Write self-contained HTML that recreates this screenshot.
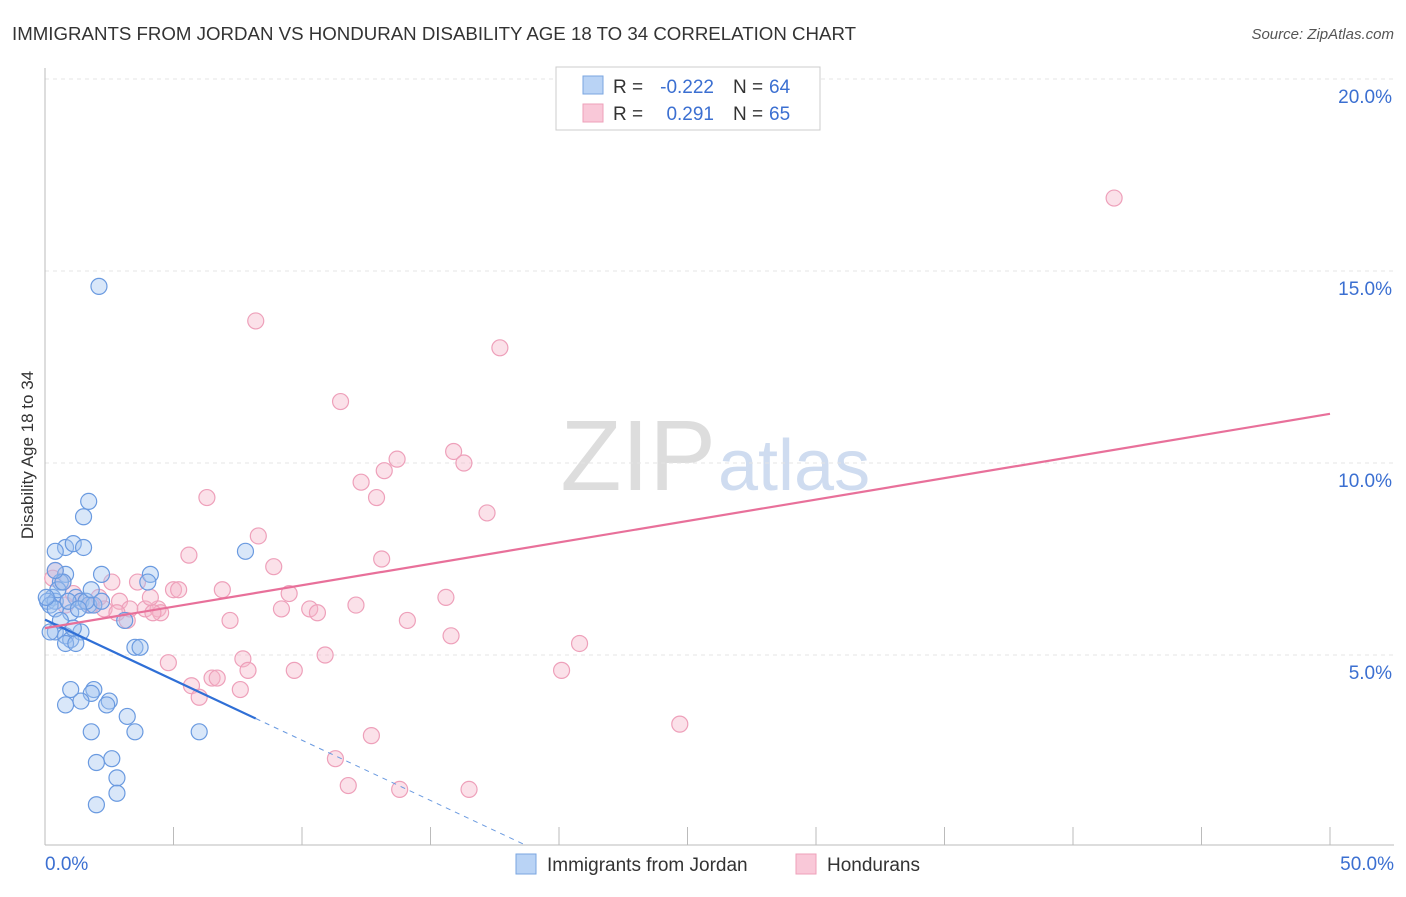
<!DOCTYPE html>
<html><head><meta charset="utf-8"><style>
body{margin:0;background:#fff;font-family:"Liberation Sans",sans-serif}
svg text{font-family:"Liberation Sans",sans-serif}
</style></head><body>
<svg id="c" width="1406" height="892">
<text x="12" y="40" font-size="18" fill="#333" textLength="844" lengthAdjust="spacingAndGlyphs">IMMIGRANTS FROM JORDAN VS HONDURAN DISABILITY AGE 18 TO 34 CORRELATION CHART</text>
<text x="1394" y="39" font-size="15" fill="#555" font-style="italic" text-anchor="end">Source: ZipAtlas.com</text>
<text x="716" y="490" font-size="100" fill="#ddd" text-anchor="end" font-family="Liberation Serif">ZIP</text>
<text x="718" y="490" font-size="72" fill="#cfdcf0">atlas</text>
<text transform="translate(33,455) rotate(-90)" font-size="17" fill="#333" text-anchor="middle">Disability Age 18 to 34</text>
<g id="grid"></g><g id="pts"></g><g id="lines"></g>
<g>
<rect x="556" y="67" width="264" height="63" fill="#fff" stroke="#ccc"/>
<rect x="583" y="76" width="20" height="18" fill="#b9d3f5" stroke="#7aa6e0"/>
<rect x="583" y="104" width="20" height="18" fill="#f9c8d8" stroke="#eea0ba"/>
<text x="613" y="93" font-size="19" fill="#333">R =</text>
<text x="714" y="93" font-size="19" fill="#3b6fd1" text-anchor="end">-0.222</text>
<text x="733" y="93" font-size="19" fill="#333">N =</text>
<text x="769" y="93" font-size="19" fill="#3b6fd1">64</text>
<text x="613" y="120" font-size="19" fill="#333">R =</text>
<text x="714" y="120" font-size="19" fill="#3b6fd1" text-anchor="end">0.291</text>
<text x="733" y="120" font-size="19" fill="#333">N =</text>
<text x="769" y="120" font-size="19" fill="#3b6fd1">65</text>
</g>
<g>
<rect x="516" y="854" width="20" height="20" fill="#b9d3f5" stroke="#7aa6e0"/>
<text x="547" y="871" font-size="19" fill="#333">Immigrants from Jordan</text>
<rect x="796" y="854" width="20" height="20" fill="#f9c8d8" stroke="#eea0ba"/>
<text x="827" y="871" font-size="19" fill="#333">Hondurans</text>
</g>
</svg>
<script>
const xTicks=[0,5,10,15,20,25,30,35,40,45,50];
const yTicks=[5,10,15,20];
const blueX=[2.1,1.7,1.5,0.8,1.1,1.5,0.4,7.8,2.2,4.1,4.0,0.8,0.6,0.3,0.1,0.4,0.2,1.2,1.4,1.7,1.9,0.4,1.0,2.2,0.4,0.8,1.0,1.4,0.8,1.2,3.1,3.5,3.7,1.0,1.9,1.8,2.5,1.4,2.4,0.8,3.2,1.8,3.5,6.0,2.6,2.0,2.8,2.8,2.0,0.5,0.7,0.9,1.1,0.2,0.6,1.6,1.3,1.8,0.4,0.05];
const blueY=[14.6,9.0,8.6,7.8,7.9,7.8,7.7,7.7,7.1,7.1,6.9,7.1,6.9,6.5,6.4,6.4,6.3,6.5,6.4,6.3,6.3,6.2,6.1,6.4,5.6,5.5,5.4,5.6,5.3,5.3,5.9,5.2,5.2,4.1,4.1,4.0,3.8,3.8,3.7,3.7,3.4,3.0,3.0,3.0,2.3,2.2,1.8,1.4,1.1,6.7,6.9,6.4,5.7,5.6,5.9,6.4,6.2,6.7,7.2,6.5];
const pinkX=[41.6,8.2,17.7,11.5,15.9,13.7,16.3,13.2,12.3,12.9,6.3,17.2,8.3,5.6,13.1,8.9,0.4,0.3,0.7,2.6,3.6,5.0,5.2,6.9,9.5,15.6,2.1,2.9,1.8,2.3,3.3,3.9,4.4,4.5,2.8,4.2,9.2,10.3,10.6,12.1,7.2,3.2,14.1,0.8,1.1,15.8,20.8,7.7,10.9,4.8,20.1,9.7,6.5,6.7,7.9,5.7,7.6,6.0,24.7,12.7,11.3,11.8,13.8,16.5,4.1,1.4];
const pinkY=[16.9,13.7,13.0,11.6,10.3,10.1,10.0,9.8,9.5,9.1,9.1,8.7,8.1,7.6,7.5,7.3,7.2,7.0,6.9,6.9,6.9,6.7,6.7,6.7,6.6,6.5,6.5,6.4,6.3,6.2,6.2,6.2,6.2,6.1,6.1,6.1,6.2,6.2,6.1,6.3,5.9,5.9,5.9,6.3,6.6,5.5,5.3,4.9,5.0,4.8,4.6,4.6,4.4,4.4,4.6,4.2,4.1,3.9,3.2,2.9,2.3,1.6,1.5,1.5,6.5,6.4];
const blueLine=[5.92,0.05];
const pinkLine=[5.7,11.28];
const X=v=>45+v*25.7, Y=v=>847-v*38.4;
const NS='http://www.w3.org/2000/svg';
function mk(p,t,a){const e=document.createElementNS(NS,t);for(const k in a)e.setAttribute(k,a[k]);p.appendChild(e);return e;}
const g=document.getElementById('grid');
yTicks.forEach(v=>{const l=mk(g,'line',{x1:45,x2:1394,y1:Y(v),y2:Y(v),stroke:'#e4e4e4','stroke-dasharray':'4,4'});

const t=mk(g,'text',{x:1392,y:Y(v)+24,'font-size':19,fill:'#3b6fd1','text-anchor':'end'});t.textContent=v.toFixed(1)+'%';
});
const ax=mk(g,'line',{x1:45,x2:1394,y1:845,y2:845,stroke:'#bbb'});
const ay=mk(g,'line',{x1:45,x2:45,y1:68,y2:845,stroke:'#bbb'});
xTicks.forEach(v=>{const l=mk(g,'line',{x1:X(v),x2:X(v),y1:827,y2:845,stroke:'#bbb'});});
[[0,'0.0%','start',45],[50,'50.0%','end',1394]].forEach(a=>{const t=mk(g,'text',{x:a[3],y:870,'font-size':19,fill:'#3b6fd1','text-anchor':a[2]});t.textContent=a[1];});
const p=document.getElementById('pts');
pinkX.forEach((v,i)=>{const c=mk(p,'circle',{cx:X(v),cy:Y(pinkY[i]),r:8,fill:'rgba(246,180,200,0.4)',stroke:'#eea0ba','stroke-width':1.2});});
blueX.forEach((v,i)=>{const c=mk(p,'circle',{cx:X(v),cy:Y(blueY[i]),r:8,fill:'rgba(160,195,240,0.4)',stroke:'#6a9ae0','stroke-width':1.2});});
const L=document.getElementById('lines');
const bEnd=18.7, bSolid=8.2;
const bAt=v=>blueLine[0]+(blueLine[1]-blueLine[0])*v/bEnd;
let l1=mk(L,'line',{x1:X(0),y1:Y(bAt(0)),x2:X(bSolid),y2:Y(bAt(bSolid)),stroke:'#2f6fd6','stroke-width':2.2});

let l2=mk(L,'line',{x1:X(bSolid),y1:Y(bAt(bSolid)),x2:X(bEnd),y2:Y(bAt(bEnd)),stroke:'#6a9ae0','stroke-width':1,'stroke-dasharray':'5,5'});

let l3=mk(L,'line',{x1:X(0),y1:Y(pinkLine[0]),x2:X(50),y2:Y(pinkLine[1]),stroke:'#e8709a','stroke-width':2.2});

</script>
</body></html>
